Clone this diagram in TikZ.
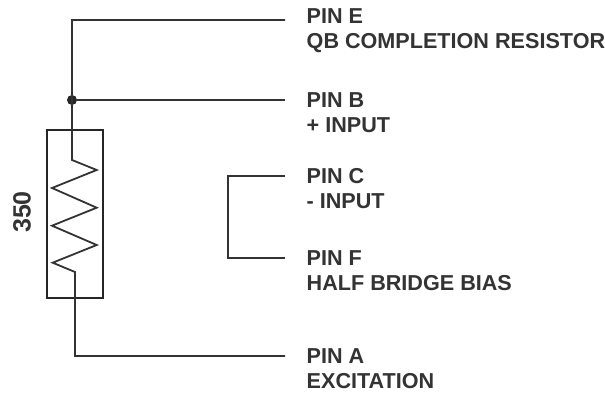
\documentclass[tikz,border=0pt]{standalone}
\usepackage{fontspec}
\setmainfont{Liberation Sans}
\begin{document}
\begin{tikzpicture}[x=1pt,y=-1pt,
  wire/.style={draw=black!80,line width=1.8pt,line join=miter},
  lab/.style={anchor=north west,align=left,font=\bfseries\fontsize{21.6}{25.5}\selectfont,text=black!80,inner sep=0pt}]
\useasboundingbox (0,0) rectangle (605,393);
\coordinate (e) at (285,20);
\coordinate (b) at (285,100);
\coordinate (c) at (285,176);
\coordinate (f) at (285,258);
\coordinate (a) at (285,356);
\coordinate (top) at (72,20);
\coordinate (ca) at (228,176);
\coordinate (cb) at (228,258);
\coordinate (bot) at (75,356);
\node[circle,fill=black!85,inner sep=0pt,minimum size=10pt] (j) at (72,100) {};
\node[draw=black!85,line width=2.7pt,minimum width=56pt,minimum height=168pt,inner sep=0pt] (r) at (75,214) {};
\path[wire] (e) -- (top) -- (72,160) -- (96.7,170) -- (52,188) -- (96.7,207.7) -- (52,225.7) -- (96.7,245) -- (52.7,262.7) -- (75,272) -- (bot) -- (a);
\path[wire] (j) -- (b);
\path[wire] (c) -- (ca) -- (cb) -- (f);
\node[rotate=90,font=\bfseries\fontsize{25}{27}\selectfont,text=black!80,inner sep=0pt] (v) at (22,212) {350};
\node[lab] (l1) at (306.5,8) {PIN E\\QB COMPLETION RESISTOR};
\node[lab] (l2) at (306.5,92) {PIN B\\+ INPUT};
\node[lab] (l3) at (306.5,168) {PIN C\\- INPUT};
\node[lab] (l4) at (306.5,250) {PIN F\\HALF BRIDGE BIAS};
\node[lab] (l5) at (306.5,348) {PIN A\\EXCITATION};
\end{tikzpicture}
\end{document}
